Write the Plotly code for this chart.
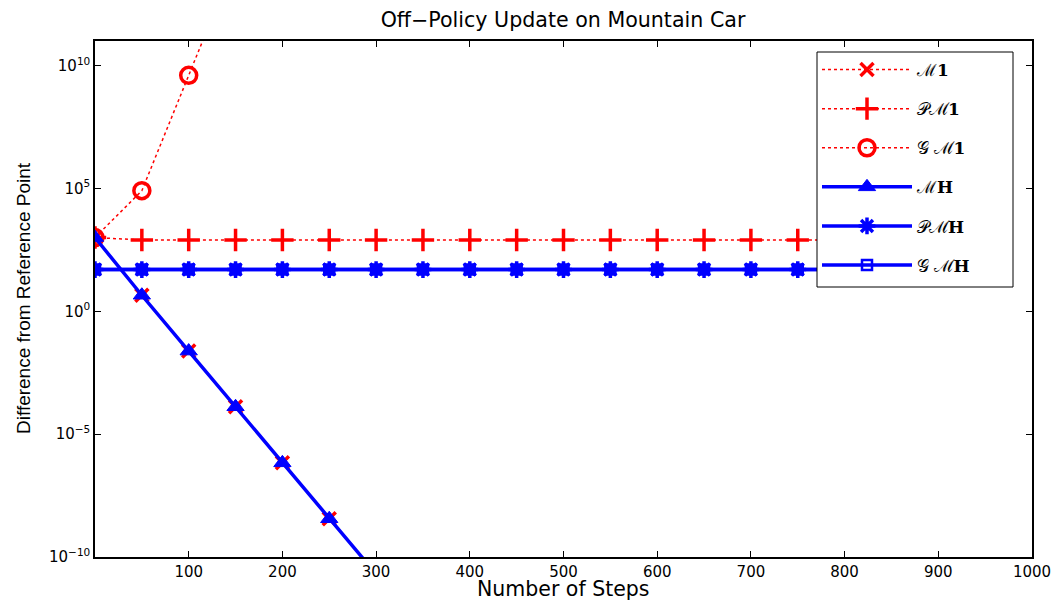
import plotly.graph_objects as go

# ---- data ----
steps_flat = [0, 50, 100, 150, 200, 250, 300, 350, 400, 450, 500,
              550, 600, 650, 700, 750, 800]
steps_decay = [0, 50, 100, 150, 200, 250, 300, 350]
steps_grow = [0, 50, 100, 150]

m1 = [1.0e3, 4.5, 2.4e-2, 1.3e-4, 6.8e-7, 3.6e-9, 2.0e-11, 1.1e-13]
pm1 = [1.0e3] + [8.0e2] * 16
gm1 = [1.0e3, 8.1e4, 4.0e9, 2.0e14]
mh = [1.0e3, 4.5, 2.4e-2, 1.3e-4, 6.8e-7, 3.6e-9, 2.0e-11, 1.1e-13]
pmh = [50.0] * 17
gmh = [50.0] * 17

names = ["ℳ<b>1</b>", "𝒫ℳ<b>1</b>", "𝒢 ℳ<b>1</b>", "ℳ<b>H</b>", "𝒫ℳ<b>H</b>", "𝒢 ℳ<b>H</b>"]
x_ticks = [100, 200, 300, 400, 500, 600, 700, 800, 900, 1000]
y_tickvals = [1e-10, 1e-5, 1e0, 1e5, 1e10]
y_ticktext = ["10<sup>−10</sup>", "10<sup>−5</sup>", "10<sup>0</sup>", "10<sup>5</sup>", "10<sup>10</sup>"]

RED = "#ff0000"
BLUE = "#0000ff"
W, H = 1055, 600
ML, MR, MT, MB = 95, 23, 41, 43
PW, PH = W - ML - MR, H - MT - MB

fig = go.Figure()

def add(x, y, name, color, dash, width, symbol, msize, mlw, group, rank):
    fig.add_trace(go.Scatter(
        x=x, y=y, name=name, mode="lines+markers", legendgroup=group,
        legendrank=rank,
        line=dict(color=color, dash=dash, width=width),
        marker=dict(symbol=symbol, size=msize, color=color,
                    line=dict(color=color, width=mlw)),
        cliponaxis=True,
    ))

add(steps_decay, m1, names[0], RED, "dot", 1.5, "x-thin-open", 13, 3.5, "g1", 1)
add(steps_flat, pm1, names[1], RED, "dot", 1.5, "cross-thin-open", 16, 3.5, "g2", 2)
add(steps_grow, gm1, names[2], RED, "dot", 1.5, "circle-open", 16, 3.5, "g3", 3)
add(steps_decay, mh, names[3], BLUE, "solid", 3.5, "triangle-up", 15, 1, "g4", 4)
add(steps_flat, gmh, names[5], BLUE, "solid", 3.5, "square-open", 10, 2.5, "g6", 6)
add(steps_flat, pmh, names[4], BLUE, "solid", 3.5, "asterisk-open", 14, 3.5, "g5", 5)

# legend frame (px -> paper)
lx0, lx1, ly0, ly1 = 817, 1013, 52, 287
fig.add_shape(type="rect", xref="paper", yref="paper", layer="above",
              x0=(lx0 - ML) / PW, x1=(lx1 - ML) / PW,
              y0=1 - (ly1 - MT) / PH, y1=1 - (ly0 - MT) / PH,
              line=dict(color="black", width=1), fillcolor="white")

fig.add_annotation(text="Number of Steps", xref="paper", yref="paper",
                   x=(563 - ML) / PW, y=0, yshift=-(589 - (H - MB)),
                   xanchor="center", yanchor="middle", showarrow=False,
                   font=dict(family="DejaVu Sans, sans-serif", size=20.5, color="black"))
fig.add_annotation(text="Difference from Reference Point", xref="paper", yref="paper",
                   x=0, xshift=-(ML - 23), y=(557 - 298) / PH, textangle=-90,
                   xanchor="center", yanchor="middle", showarrow=False,
                   font=dict(family="Liberation Sans, Arial, sans-serif", size=19, color="black"))

fig.update_layout(
    width=W, height=H,
    margin=dict(l=ML, r=MR, t=MT, b=MB),
    paper_bgcolor="white", plot_bgcolor="white",
    font=dict(family="DejaVu Sans, sans-serif", color="black"),
    title=dict(text="Off−Policy Update on Mountain Car", x=(563) / W, xanchor="center",
               y=1 - 20 / H, yanchor="middle",
               font=dict(family="DejaVu Sans, sans-serif", size=20.6, color="black")),
    showlegend=True,
    legend=dict(x=(lx0 - ML) / PW, y=1 - (ly0 - MT) / PH, xanchor="left", yanchor="top",
                borderwidth=0, bgcolor="rgba(0,0,0,0)",
                font=dict(family="DejaVu Serif, serif", size=17, color="black"),
                tracegroupgap=14, traceorder="grouped",
                itemwidth=90),
)

fig.update_xaxes(
    range=[0, 1000], tickvals=x_ticks, ticks="inside", ticklen=6, tickcolor="black",
    showline=True, linecolor="black", linewidth=1.5, mirror="ticks",
    showgrid=False, zeroline=False, automargin=False,
    tickfont=dict(family="DejaVu Sans, sans-serif", size=15, color="black"),
)
fig.update_yaxes(
    type="log", range=[-10, 11], tickvals=y_tickvals, ticktext=y_ticktext,
    ticks="inside", ticklen=6, tickcolor="black",
    showline=True, linecolor="black", linewidth=1.5, mirror="ticks",
    showgrid=False, zeroline=False, automargin=False,
    tickfont=dict(family="DejaVu Sans, sans-serif", size=15, color="black"),
)

fig.write_html("out.html", config={"displayModeBar": False},
               post_script="document.body.style.margin='0';document.body.style.overflow='hidden';")
